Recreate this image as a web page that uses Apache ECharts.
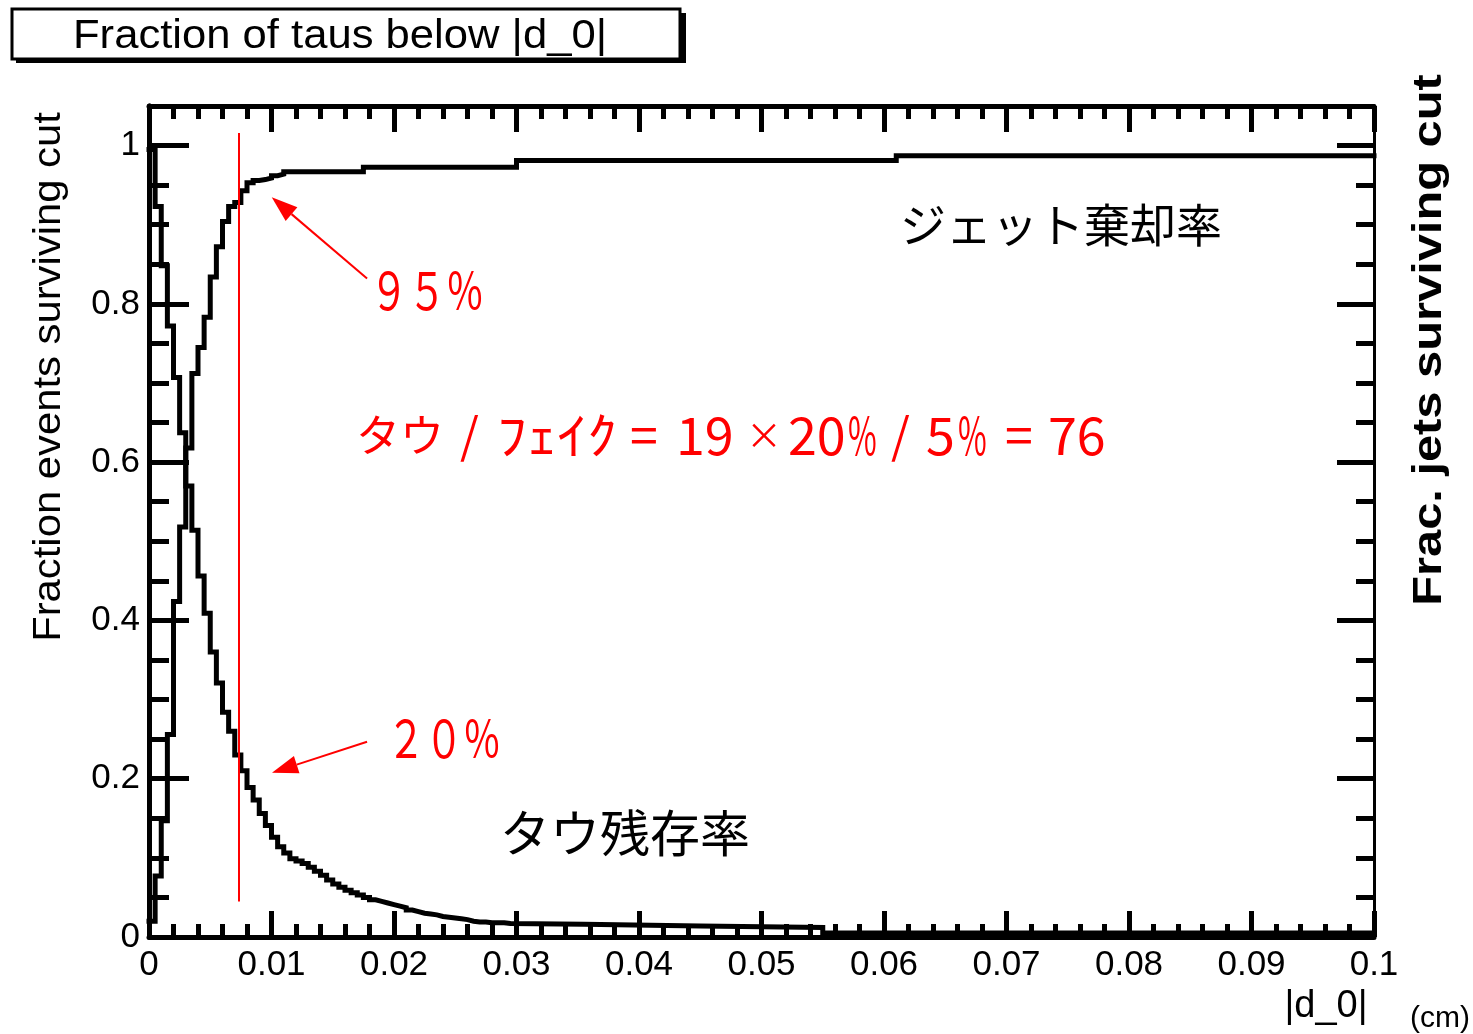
<!DOCTYPE html>
<html>
<head>
<meta charset="utf-8">
<script src="https://cdn.jsdelivr.net/npm/echarts@6/dist/echarts.min.js"></script>
<style>
  html, body { margin: 0; padding: 0; background: #fff; }
  #chart { width: 1473px; height: 1034px; }
</style>
</head>
<body>
<div id="chart"></div>
<script>
// Cumulative |d_0| distributions in 0.0005 cm bins.
const binWidth = 0.0005;
const xMax = 0.1;

// Tau survival fraction, one value per bin from |d_0| = 0
const tauBins = [
  0.995, 0.923, 0.848, 0.772, 0.707, 0.637, 0.570, 0.514, 0.456, 0.409,
  0.360, 0.321, 0.284, 0.260, 0.230, 0.210, 0.189, 0.173, 0.156, 0.141,
  0.126, 0.114, 0.106, 0.099, 0.096, 0.093, 0.088, 0.083, 0.078, 0.072,
  0.067, 0.063, 0.059, 0.056, 0.053, 0.050, 0.047, 0.045, 0.043, 0.041,
  0.039, 0.037, 0.034, 0.032, 0.030, 0.029, 0.028, 0.026, 0.025, 0.024,
  0.023, 0.022, 0.020, 0.019, 0.019, 0.018, 0.018, 0.018, 0.017
];
// Flat runs after the per-bin part: [run start (cm), value]
const tauTail = [[0.0295, 0.016], [0.0355, 0.014], [0.045, 0.012], [0.055, 0.005]];

// Jet rejection fraction, one value per bin from |d_0| = 0
const jetBins = [
  0.020, 0.077, 0.147, 0.256, 0.424, 0.518, 0.618, 0.712, 0.745, 0.783,
  0.834, 0.872, 0.904, 0.923, 0.928, 0.943, 0.953, 0.956, 0.957, 0.959,
  0.962, 0.964
];
const jetTail = [[0.011, 0.967], [0.0175, 0.9726], [0.030, 0.981], [0.061, 0.987]];

// Axis ticks
const yMajorTicks = [0, 0.2, 0.4, 0.6, 0.8, 1];
const yMinorTicks = [0.05, 0.1, 0.15, 0.25, 0.3, 0.35, 0.45, 0.5, 0.55, 0.65, 0.7, 0.75, 0.85, 0.9, 0.95, 1.0];
const xTickInterval = 0.01;

// |d_0| cut and the annotation arrows (data coordinates)
const cutValue = 0.0073;
const cutLineSpan = [0.045, 1.016];
const arrows = [
  { from: [0.0178, 0.832], to: [0.01002, 0.9347] },
  { from: [0.0178, 0.2468], to: [0.01004, 0.2076] }
];

// Ratio annotation, one piece per token: [text, left x, font size, horizontal scale]
const ratioTokens = [
  ['タウ', 356, 44, 1], ['/', 460, 48, 1], ['ﾌｪｲｸ', 497, 50, 1.2], ['=', 630, 50, 1],
  ['19', 676, 52, 1], ['×', 746, 36, 1], ['20', 788, 52, 1], ['%', 848, 52, 0.6],
  ['/', 891, 48, 1], ['5', 926, 52, 1], ['%', 958, 52, 0.6], ['=', 1005, 50, 1], ['76', 1048, 52, 1]
];

function stepPoints(bins, tail) {
  const pts = bins.map((v, i) => [i * binWidth, v]);
  tail.forEach(p => pts.push([p[0], p[1]]));
  pts.push([xMax, pts[pts.length - 1][1]]);
  return pts;
}

const LATIN = '"Liberation Sans", Arial, Helvetica, sans-serif';
const CJK = '"Noto Sans CJK JP", "Noto Sans", sans-serif';
const INK = '#000';
const RED = '#ff0000';

const chart = echarts.init(document.getElementById('chart'), null, { renderer: 'canvas' });

const histStyle = { color: INK, width: 5, join: 'miter', cap: 'square' };

function xAxisCfg(pos, labels) {
  return {
    type: 'value', position: pos, min: 0, max: xMax, interval: xTickInterval,
    axisLine: { show: true, onZero: false, lineStyle: { color: INK, width: 5 } },
    axisTick: { show: true, inside: true, length: 26, lineStyle: { color: INK, width: 5 } },
    minorTick: { show: true, splitNumber: 5, length: 13, lineStyle: { color: INK, width: 5 } },
    axisLabel: {
      show: labels, margin: 11, color: INK, fontFamily: LATIN, fontSize: 35,
      formatter: v => String(+v.toFixed(3))
    },
    splitLine: { show: false }, minorSplitLine: { show: false }
  };
}

function yAxisCfg(pos, ticks, len, lineW, labels) {
  return {
    type: 'value', position: pos, min: 0, max: 1.05,
    axisLine: { show: true, onZero: false, lineStyle: { color: INK, width: lineW } },
    axisTick: { show: true, inside: true, length: len, customValues: ticks, lineStyle: { color: INK, width: 5 } },
    axisLabel: {
      show: labels, customValues: yMajorTicks, margin: 9, color: INK,
      fontFamily: LATIN, fontSize: 35, formatter: v => String(+v.toFixed(2))
    },
    splitLine: { show: false }
  };
}

const option = {
  animation: false,
  backgroundColor: '#fff',
  grid: { left: 149, right: 99, top: 106, bottom: 97, containLabel: false },
  xAxis: [xAxisCfg('bottom', true), xAxisCfg('top', false)],
  yAxis: [
    yAxisCfg('left', yMajorTicks, 40, 5, true),
    yAxisCfg('left', yMinorTicks, 20, 5, false),
    yAxisCfg('right', yMajorTicks, 37, 3, false),
    yAxisCfg('right', yMinorTicks, 18, 3, false)
  ],
  series: [
    {
      name: 'tau', type: 'line', step: 'end', xAxisIndex: 0, yAxisIndex: 0,
      data: stepPoints(tauBins, tauTail), symbol: 'none', lineStyle: histStyle,
      markLine: {
        silent: true, symbol: ['none', 'none'], label: { show: false },
        lineStyle: { color: RED, width: 2, type: 'solid' },
        data: [[{ coord: [cutValue, cutLineSpan[0]] }, { coord: [cutValue, cutLineSpan[1]] }]]
      }
    },
    {
      name: 'jet', type: 'line', step: 'end', xAxisIndex: 0, yAxisIndex: 0,
      data: stepPoints(jetBins, jetTail), symbol: 'none', lineStyle: histStyle
    }
  ]
};
chart.setOption(option);

// Text, title box and arrows
function arrowGraphic(a) {
  const p0 = chart.convertToPixel({ xAxisIndex: 0, yAxisIndex: 0 }, a.from);
  const p1 = chart.convertToPixel({ xAxisIndex: 0, yAxisIndex: 0 }, a.to);
  const dx = p1[0] - p0[0], dy = p1[1] - p0[1];
  const L = Math.hypot(dx, dy), ux = dx / L, uy = dy / L;
  const head = 26, half = 9;
  const bx = p1[0] - ux * head, by = p1[1] - uy * head;
  return [
    { type: 'line', silent: true, shape: { x1: p0[0], y1: p0[1], x2: bx, y2: by }, style: { stroke: RED, lineWidth: 2 } },
    { type: 'polygon', silent: true, shape: { points: [p1, [bx - uy * half, by + ux * half], [bx + uy * half, by - ux * half]] }, style: { fill: RED } }
  ];
}

function text(t, x, y, font, extra) {
  const el = Object.assign({ type: 'text', silent: true, x: x, y: y }, (extra && extra.el) || {});
  el.style = Object.assign({ text: t, fill: INK, font: font, textVerticalAlign: 'middle', textAlign: 'left' }, (extra && extra.style) || {});
  return el;
}

const graphics = [
  // title box with drop shadow
  { type: 'rect', silent: true, shape: { x: 16, y: 13, width: 670, height: 50 }, style: { fill: INK } },
  { type: 'rect', silent: true, shape: { x: 12, y: 9, width: 668, height: 50 }, style: { fill: '#fff', stroke: INK, lineWidth: 3 } },
  text('Fraction of taus below |d_0|', 340, 37, '40px ' + LATIN, { style: { textAlign: 'center' }, el: { scaleX: 1.09 } }),
  // axis titles
  text('Fraction events surviving cut', 50, 377, '38px ' + LATIN, { style: { textAlign: 'center' }, el: { rotation: Math.PI / 2, scaleX: 1.1 } }),
  text('Frac. jets surviving cut', 1430, 340, 'bold 40px ' + LATIN, { style: { textAlign: 'center' }, el: { rotation: Math.PI / 2, scaleX: 1.22 } }),
  text('|d_0|', 1326, 1007, '38px ' + LATIN, { style: { textAlign: 'center' } }),
  text('(cm)', 1440, 1019, '30px ' + LATIN, { style: { textAlign: 'center' } }),
  // curve names
  text('ジェット棄却率', 900, 225, '46px ' + CJK),
  text('タウ残存率', 500, 833, '50px ' + CJK),
  // red annotations
  text('９５％', 370, 291, '38px ' + CJK, { style: { fill: RED }, el: { scaleY: 1.35 } }),
  text('２０％', 387, 739, '38px ' + CJK, { style: { fill: RED }, el: { scaleY: 1.35 } })
];
ratioTokens.forEach(t => {
  graphics.push(text(t[0], t[1], 435, t[2] + 'px ' + CJK, { style: { fill: RED }, el: { scaleX: t[3] } }));
});
arrows.forEach(a => arrowGraphic(a).forEach(g => graphics.push(g)));
chart.setOption({ graphic: graphics });
</script>
</body>
</html>
